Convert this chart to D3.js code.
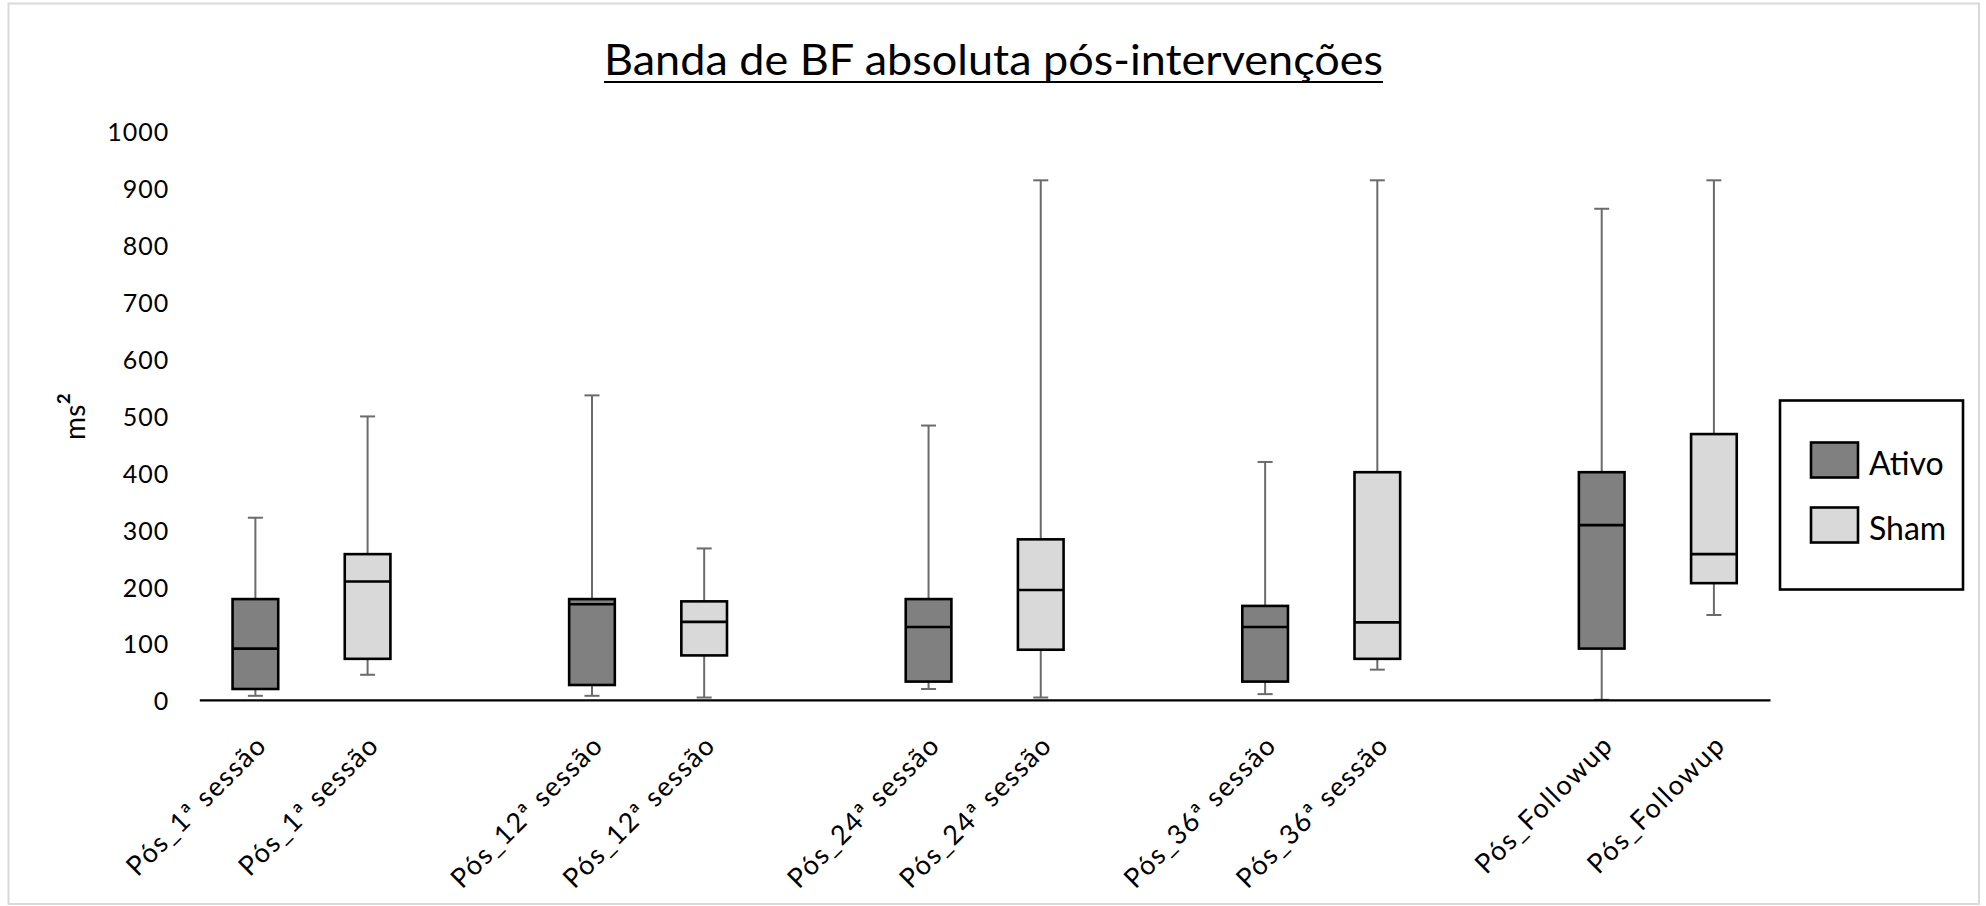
<!DOCTYPE html>
<html>
<head>
<meta charset="utf-8">
<script src="https://cdn.jsdelivr.net/npm/d3@7"></script>
<style>
  html, body { margin: 0; padding: 0; background: #fff; }
  svg { display: block; }
  text { font-family: Lato, "Open Sans", sans-serif; fill: #000; }
</style>
</head>
<body>
<svg id="chart" width="1986" height="906"></svg>
<script>
// Sessions (groups) and the two intervention series
const groups = ["Pós_1ª sessão", "Pós_12ª sessão", "Pós_24ª sessão", "Pós_36ª sessão", "Pós_Followup"];
const seriesNames = ["Ativo", "Sham"];
const seriesFill = ["#808080", "#d9d9d9"];

// Five-number summaries, one value per session (ms²)
const ativoMin    = [7, 7, 19, 10, 0];
const ativoQ1     = [19, 26, 32, 32, 90];
const ativoMedian = [90, 168, 128, 128, 307];
const ativoQ3     = [177, 177, 177, 165, 400];
const ativoMax    = [320, 535, 482, 418, 863];

const shamMin    = [44, 4, 4, 53, 149];
const shamQ1     = [72, 78, 88, 72, 205];
const shamMedian = [208, 137, 193, 136, 256];
const shamQ3     = [256, 173, 282, 400, 467];
const shamMax    = [498, 266, 913, 913, 913];

const yTicks = [0, 100, 200, 300, 400, 500, 600, 700, 800, 900, 1000];

const titleText = "Banda de BF absoluta pós-intervenções";

// ---------------------------------------------------------------
const svg = d3.select("#chart");
const plot = { left: 199.3, right: 1770, top: 130.8, bottom: 699.8 };

// Outer chart-area frame
svg.append("rect")
  .attr("x", 8.5).attr("y", 3.5)
  .attr("width", 1979 - 8.5).attr("height", 904 - 3.5)
  .attr("fill", "none").attr("stroke", "#d9d9d9").attr("stroke-width", 2);

// Category slots: each session has Ativo + Sham, with an empty slot between sessions
const slots = [];
const boxes = [];
const stats = [
  { min: ativoMin, q1: ativoQ1, med: ativoMedian, q3: ativoQ3, max: ativoMax },
  { min: shamMin, q1: shamQ1, med: shamMedian, q3: shamQ3, max: shamMax }
];
groups.forEach((g, i) => {
  seriesNames.forEach((s, j) => {
    const key = i + "|" + s;
    slots.push(key);
    boxes.push({
      key, group: g, series: j,
      min: stats[j].min[i], q1: stats[j].q1[i], med: stats[j].med[i],
      q3: stats[j].q3[i], max: stats[j].max[i]
    });
  });
  if (i < groups.length - 1) slots.push(i + "|gap");
});
const slotLabel = k => {
  const [i, s] = k.split("|");
  return s === "gap" ? "" : groups[+i];
};

const x = d3.scaleBand().domain(slots).range([plot.left, plot.right]).padding(0);
const y = d3.scaleLinear().domain([0, 1000]).range([plot.bottom, plot.top]);

const boxW = x.bandwidth() * 0.407;
const capW = 15;

// Y axis (labels only)
const yAxis = svg.append("g")
  .attr("transform", `translate(${plot.left},0)`)
  .call(d3.axisLeft(y).tickValues(yTicks).tickFormat(d3.format("d")).tickSize(0).tickPadding(30));
yAxis.select(".domain").remove();
yAxis.selectAll("text")
  .attr("font-family", "Lato, sans-serif")
  .attr("font-size", 25)
  .attr("letter-spacing", 1)
  .attr("dy", "0.4em");

// Y axis title: ms with a superscript 2
const yt = svg.append("text")
  .attr("transform", `translate(85,${(plot.top + plot.bottom) / 2 + 1}) rotate(-90)`)
  .attr("text-anchor", "middle")
  .attr("font-size", 28);
yt.append("tspan").text("ms");
yt.append("tspan").attr("font-size", 36).attr("dy", 2).text("²");

// Boxes
const item = svg.append("g").selectAll("g.box").data(boxes).join("g").attr("class", "box")
  .attr("transform", d => `translate(${x(d.key) + x.bandwidth() / 2},0)`);

const whisker = sel => sel.attr("stroke", "#6b6b6b").attr("stroke-width", 2);
// whiskers
item.append("line").call(whisker)
  .attr("x1", 0).attr("x2", 0)
  .attr("y1", d => y(d.q3)).attr("y2", d => y(d.max));
item.append("line").call(whisker)
  .attr("x1", 0).attr("x2", 0)
  .attr("y1", d => y(d.q1)).attr("y2", d => y(d.min));
item.append("line").call(whisker)
  .attr("x1", -capW / 2).attr("x2", capW / 2)
  .attr("y1", d => y(d.max)).attr("y2", d => y(d.max));
item.append("line").call(whisker)
  .attr("x1", -capW / 2).attr("x2", capW / 2)
  .attr("y1", d => y(d.min)).attr("y2", d => y(d.min));

// interquartile boxes
item.append("rect")
  .attr("x", -boxW / 2).attr("width", boxW)
  .attr("y", d => y(d.q3)).attr("height", d => y(d.q1) - y(d.q3))
  .attr("fill", d => seriesFill[d.series])
  .attr("stroke", "#000").attr("stroke-width", 2.6);
// medians
item.append("line")
  .attr("x1", -boxW / 2).attr("x2", boxW / 2)
  .attr("y1", d => y(d.med)).attr("y2", d => y(d.med))
  .attr("stroke", "#000").attr("stroke-width", 2.6);

// X axis with rotated category labels
const xAxis = svg.append("g")
  .attr("transform", `translate(0,${plot.bottom})`)
  .call(d3.axisBottom(x).tickSize(0).tickSizeOuter(0).tickFormat(slotLabel));
xAxis.select(".domain").attr("stroke", "#000").attr("stroke-width", 2.2);
xAxis.selectAll("text")
  .attr("font-family", "Lato, sans-serif")
  .attr("font-size", 27)
  .attr("letter-spacing", 1.5)
  .attr("text-anchor", "end")
  .attr("x", 0).attr("y", 0).attr("dy", 0)
  .attr("transform", "translate(13,47) rotate(-45)");

// Title with underline
const title = svg.append("text")
  .attr("x", 993.5).attr("y", 75)
  .attr("text-anchor", "middle")
  .attr("font-size", 43)
  .text(titleText);
const tLen = title.node().getComputedTextLength();
if (Math.abs(tLen - 779) > 4) {
  title.attr("textLength", 779).attr("lengthAdjust", "spacingAndGlyphs");
}
svg.append("line")
  .attr("x1", 993.5 - 779 / 2).attr("x2", 993.5 + 779 / 2)
  .attr("y1", 82).attr("y2", 82)
  .attr("stroke", "#000").attr("stroke-width", 2);

// Legend
const lg = svg.append("g");
lg.append("rect")
  .attr("x", 1780).attr("y", 400.5).attr("width", 183).attr("height", 189)
  .attr("fill", "#fff").attr("stroke", "#000").attr("stroke-width", 2.6);
const legendRows = seriesNames.map((s, i) => ({ name: s, fill: seriesFill[i], y: 442.5 + i * 65 }));
const lr = lg.selectAll("g.row").data(legendRows).join("g").attr("class", "row");
lr.append("rect")
  .attr("x", 1811).attr("y", d => d.y).attr("width", 47).attr("height", 35)
  .attr("fill", d => d.fill).attr("stroke", "#000").attr("stroke-width", 2.6);
lr.append("text")
  .attr("x", 1869).attr("y", d => d.y + 32)
  .attr("font-size", 32)
  .text(d => d.name);
</script>
</body>
</html>
